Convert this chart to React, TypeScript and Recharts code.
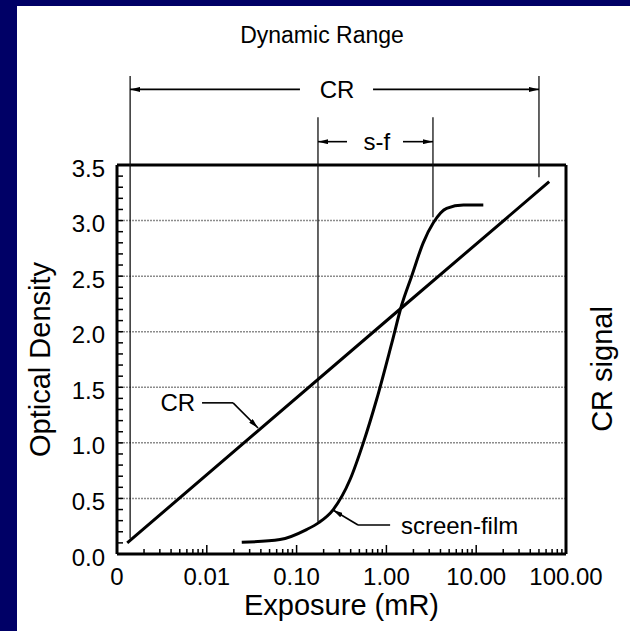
import { LineChart, Line, XAxis, YAxis, ReferenceLine, ReferenceDot } from 'recharts';

// x axis: log decades (mR) and their printed labels
const decades = [0.001, 0.01, 0.1, 1, 10, 100];
const decadeLabels = ['0', '0.01', '0.10', '1.00', '10.00', '100.00'];
const minorSteps = [2, 3, 4, 5, 6, 7, 8, 9];

// y axis: optical density
const majorDensities = [0, 0.5, 1, 1.5, 2, 2.5, 3, 3.5];
const densityLabels = ['0.0', '0.5', '1.0', '1.5', '2.0', '2.5', '3.0', '3.5'];
const gridDensities = [0.5, 1, 1.5, 2, 2.5, 3];

// CR response (straight in log exposure)
const crExposure = [0.0013, 1.5, 65];
const crDensity = [0.1, 2.22, 3.35];

// screen-film characteristic curve
const sfExposure = [0.0245, 0.0653, 0.129, 0.175, 0.256, 0.394, 0.553, 0.778, 1.15, 1.48, 1.91, 2.57, 3.33, 4.68, 7.2, 12.0];
const sfDensity = [0.105, 0.13, 0.22, 0.28, 0.4, 0.67, 1.0, 1.39, 1.9, 2.24, 2.5, 2.8, 2.98, 3.11, 3.14, 3.14];

// dynamic range brackets (exposure, density)
const guideExposure = [0.0014, 50, 0.173, 3.3];
const guideBottom = [0.14, 3.39, 0.29, 3.03];
const guideTop = [4.3, 4.3, 3.93, 3.93];

const dimArrows = [
  { x1: 0.109, x2: 0.0014, y: 4.18 },
  { x1: 0.71, x2: 50, y: 4.18 },
  { x1: 0.364, x2: 0.173, y: 3.71 },
  { x1: 1.53, x2: 3.3, y: 3.71 },
];

const leaders = [
  { x1: 0.00885, y1: 1.36, x2: 0.0196, y2: 1.36, arrow: false },
  { x1: 0.0196, y1: 1.36, x2: 0.0372, y2: 1.134, arrow: true },
  { x1: 1.1, y1: 0.261, x2: 0.483, y2: 0.261, arrow: false },
  { x1: 0.483, y1: 0.261, x2: 0.254, y2: 0.396, arrow: true },
];

const notes = [
  { text: 'CR', x: 0.282, y: 4.18, anchor: 'middle' },
  { text: 's-f', x: 0.785, y: 3.71, anchor: 'middle' },
  { text: 'CR', x: 0.0074, y: 1.36, anchor: 'end' },
  { text: 'screen-film', x: 1.45, y: 0.261, anchor: 'start' },
];

const FONT = '"Liberation Sans", Arial, Helvetica, sans-serif';

const exposureTicks = decades.concat(
  decades.slice(0, -1).flatMap((d) => minorSteps.map((m) => d * m))
).sort((a, b) => a - b);
const densityTicks = Array.from({ length: 36 }, (_, i) => i / 10);

const crData = crExposure.map((x, i) => ({ x, y: crDensity[i] }));
const sfData = sfExposure.map((x, i) => ({ x, y: sfDensity[i] }));

function ExposureTick(props: any) {
  const { x, y, payload } = props;
  const i = decades.indexOf(payload.value);
  const major = i >= 0;
  return (
    <g>
      <line x1={x} y1={y} x2={x} y2={y - (major ? 9 : 5)} stroke="#000" strokeWidth={1.5} />
      {major && (
        <text x={x} y={y + 31} textAnchor="middle" fontSize={24} fill="#000" fontFamily={FONT}>
          {decadeLabels[i]}
        </text>
      )}
    </g>
  );
}

function DensityTick(props: any) {
  const { x, y, payload } = props;
  const i = majorDensities.findIndex((d) => Math.abs(d - payload.value) < 1e-6);
  return (
    <g>
      <line x1={x} y1={y} x2={x + 6} y2={y} stroke="#000" strokeWidth={1.5} />
      {i >= 0 && (
        <text x={x - 12} y={y + 11.5} textAnchor="end" fontSize={24} fill="#000" fontFamily={FONT}>
          {densityLabels[i]}
        </text>
      )}
    </g>
  );
}

function AxisTitle(props: any) {
  const { viewBox, value, side } = props;
  if (side === 'bottom') {
    return (
      <text x={viewBox.x + viewBox.width / 2} y={viewBox.y + 61} textAnchor="middle" fontSize={29} fill="#000" fontFamily={FONT}>
        {value}
      </text>
    );
  }
  const cx = viewBox.x + 50;
  const cy = viewBox.y + viewBox.height / 2;
  return (
    <text x={cx} y={cy} transform={`rotate(-90 ${cx} ${cy})`} textAnchor="middle" fontSize={29} fill="#000" fontFamily={FONT}>
      {value}
    </text>
  );
}

const arrowLine = (p: any) => (
  <line x1={p.x1} y1={p.y1} x2={p.x2} y2={p.y2} stroke="#000" strokeWidth={1.6} markerEnd="url(#arrowHead)" />
);
const plainLine = (p: any) => (
  <line x1={p.x1} y1={p.y1} x2={p.x2} y2={p.y2} stroke="#000" strokeWidth={1.6} />
);

export default function App() {
  return (
    <div style={{ position: 'fixed', left: 0, top: 0, width: 630, height: 631, background: '#000066', overflow: 'hidden' }}>
      <div style={{ position: 'absolute', left: 17, top: 6, width: 613, height: 625, background: '#fff' }} />
      <div style={{ position: 'absolute', left: 0, top: 0 }}>
        <LineChart width={630} height={631} margin={{ top: 165, right: 64, bottom: 0, left: 0 }} style={{ fontFamily: FONT }}>
          <defs>
            <marker id="arrowHead" viewBox="0 0 10 5" refX="10" refY="2.5" markerWidth="10" markerHeight="5" markerUnits="userSpaceOnUse" orient="auto">
              <path d="M0,0 L10,2.5 L0,5 z" fill="#000" />
            </marker>
          </defs>
          <XAxis
            type="number"
            dataKey="x"
            scale="log"
            domain={[0.001, 100]}
            allowDataOverflow
            ticks={exposureTicks}
            interval={0}
            tickLine={false}
            tickSize={0}
            tickMargin={0}
            tick={ExposureTick}
            height={77}
            axisLine={{ stroke: '#000', strokeWidth: 3 }}
            label={<AxisTitle value="Exposure (mR)" side="bottom" />}
          />
          <YAxis
            type="number"
            dataKey="y"
            domain={[0, 3.5]}
            allowDataOverflow
            ticks={densityTicks}
            interval={0}
            tickLine={false}
            tickSize={0}
            tickMargin={0}
            tick={DensityTick}
            width={117}
            axisLine={{ stroke: '#000', strokeWidth: 3 }}
            label={<AxisTitle value="Optical Density" side="left" />}
          />
          {gridDensities.map((d) => (
            <ReferenceLine key={'g' + d} y={d} stroke="#8c8c8c" strokeWidth={1.5} strokeDasharray="2 1" />
          ))}
          <ReferenceLine y={3.5} stroke="#000" strokeWidth={3} ifOverflow="visible" />
          <ReferenceLine x={100} stroke="#000" strokeWidth={3} ifOverflow="visible" />

          {guideExposure.map((x, i) => (
            <ReferenceLine
              key={'v' + i}
              segment={[{ x, y: guideBottom[i] }, { x, y: guideTop[i] }]}
              ifOverflow="visible"
              shape={(p: any) => <line x1={p.x1} y1={p.y1} x2={p.x2} y2={p.y2} stroke="#111" strokeWidth={1.3} />}
            />
          ))}
          {dimArrows.map((a, i) => (
            <ReferenceLine
              key={'d' + i}
              segment={[{ x: a.x1, y: a.y }, { x: a.x2, y: a.y }]}
              ifOverflow="visible"
              shape={arrowLine}
            />
          ))}
          {leaders.map((s, i) => (
            <ReferenceLine
              key={'l' + i}
              segment={[{ x: s.x1, y: s.y1 }, { x: s.x2, y: s.y2 }]}
              ifOverflow="visible"
              shape={s.arrow ? arrowLine : plainLine}
            />
          ))}
          {notes.map((n, i) => (
            <ReferenceDot
              key={'n' + i}
              x={n.x}
              y={n.y}
              ifOverflow="visible"
              shape={(p: any) => (
                <text x={p.cx} y={p.cy} dy="0.355em" textAnchor={n.anchor} fontSize={24} fill="#000" fontFamily={FONT}>
                  {n.text}
                </text>
              )}
            />
          ))}

          <Line data={crData} dataKey="y" type="linear" stroke="#000" strokeWidth={3} dot={false} activeDot={false} isAnimationActive={false} />
          <Line data={sfData} dataKey="y" type="monotone" stroke="#000" strokeWidth={3} dot={false} activeDot={false} isAnimationActive={false} />
        </LineChart>
      </div>
      <svg width={630} height={631} style={{ position: 'absolute', left: 0, top: 0, pointerEvents: 'none' }}>
        <text x={322} y={43} textAnchor="middle" fontSize={23} fill="#000" fontFamily={FONT}>
          Dynamic Range
        </text>
        <text x={612} y={369} transform="rotate(-90 612 369)" textAnchor="middle" fontSize={29} fill="#000" fontFamily={FONT}>
          CR signal
        </text>
      </svg>
    </div>
  );
}
